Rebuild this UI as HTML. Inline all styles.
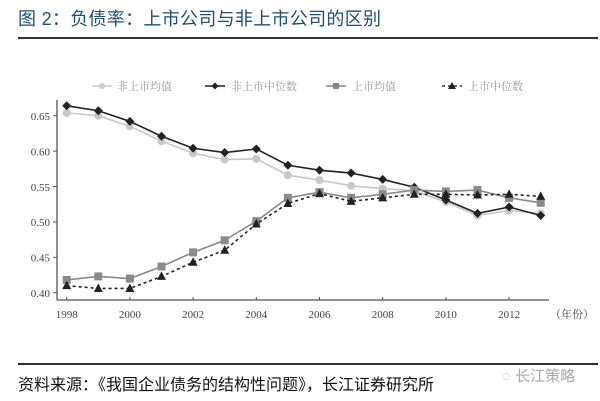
<!DOCTYPE html>
<html><head><meta charset="utf-8"><style>
body{margin:0;width:600px;height:401px;background:#fff;overflow:hidden;font-family:"Liberation Sans","Noto Sans CJK SC",sans-serif}
.t{position:absolute;left:18px;top:5px;font-size:18px;color:#1d4f73;letter-spacing:0.3px}
.r{position:absolute;left:18px;width:580px;height:2px;background:#333}
.s{position:absolute;left:18px;top:371px;font-size:16px;color:#111}
.w{position:absolute;left:502px;top:365px;font-size:15px;color:#aaa}
</style></head><body>
<div class="t">图 2：负债率：上市公司与非上市公司的区别</div>
<div class="r" style="top:37px"></div>
<div class="r" style="top:363px;height:1.5px"></div>
<div class="s">资料来源：《我国企业债务的结构性问题》，长江证券研究所</div>
<div class="w">◌ 长江策略</div>
<svg width="600" height="401" style="position:absolute;left:0;top:0" font-family="Liberation Serif,Noto Serif CJK SC,serif">
<g font-size="11" fill="#999" font-family="Liberation Serif,Noto Serif CJK SC,serif">
<line x1="92" y1="86" x2="112" y2="86" stroke="#ccc" stroke-width="1.5"/><circle cx="102" cy="86" r="3" fill="#ccc"/><text x="117" y="90">非上市均值</text>
<line x1="205" y1="86" x2="225" y2="86" stroke="#222" stroke-width="1.5"/><path d="M215 82.5L218.5 86 215 89.5 211.5 86Z" fill="#222"/><text x="231" y="90">非上市中位数</text>
<line x1="326" y1="86" x2="346" y2="86" stroke="#888" stroke-width="1.5"/><rect x="333" y="83" width="6" height="6" fill="#888"/><text x="352" y="90">上市均值</text>
<line x1="442" y1="86" x2="462" y2="86" stroke="#333" stroke-width="1.5" stroke-dasharray="3,3"/><path d="M452 82L456 89 448 89Z" fill="#222"/><text x="468" y="90">上市中位数</text>
</g>
<g stroke="#555" stroke-width="1.3" fill="none">
<line x1="57" y1="100" x2="57" y2="300"/><line x1="57" y1="300" x2="549" y2="300"/>
</g>
<g id="ticks" stroke="#555" stroke-width="1"></g>
<g font-size="11" fill="#444" text-anchor="end">
<text x="50" y="120">0.65</text><text x="50" y="155.5">0.60</text><text x="50" y="191">0.55</text><text x="50" y="226">0.50</text><text x="50" y="261.5">0.45</text><text x="50" y="297">0.40</text>
</g>
<g font-size="11" fill="#444" text-anchor="middle">
<text x="66.7" y="318">1998</text><text x="129.9" y="318">2000</text><text x="193.1" y="318">2002</text><text x="256.3" y="318">2004</text><text x="319.5" y="318">2006</text><text x="382.7" y="318">2008</text><text x="445.9" y="318">2010</text><text x="509.1" y="318">2012</text><text x="572" y="318">（年份）</text>
</g>
<g id="series"></g>
</svg>
<script>
var X=function(i){return 66.7+i*31.6},Y=function(v){return 292.7-(v-0.4)*708};
var ns="http://www.w3.org/2000/svg",tk=document.getElementById('ticks'),sg=document.getElementById('series');
function el(n,a,p){var e=document.createElementNS(ns,n);for(var k in a)e.setAttribute(k,a[k]);(p||sg).appendChild(e);return e}
[0.4,0.45,0.5,0.55,0.6,0.65].forEach(function(v){el('line',{x1:53,x2:57,y1:Y(v),y2:Y(v)},tk)});
for(var i=0;i<16;i+=2)el('line',{x1:X(i),x2:X(i),y1:297,y2:300},tk);
var S=[
{d:[.654,.650,.635,.614,.597,.588,.589,.566,.559,.551,.547,.544,.528,.509,.516,.512],c:'#c8c8c8',m:'c'},
{d:[.664,.657,.642,.621,.604,.598,.603,.580,.573,.569,.560,.549,.531,.512,.521,.509],c:'#222',m:'d'},
{d:[.418,.423,.420,.437,.457,.474,.501,.534,.542,.534,.539,.545,.543,.545,.534,.527],c:'#8a8a8a',m:'s'},
{d:[.410,.406,.406,.423,.443,.460,.497,.526,.540,.529,.534,.539,.539,.538,.539,.536],c:'#222',m:'t',da:'3,3'}];
S.forEach(function(s){var p=s.d.map(function(v,i){return X(i)+','+Y(v)}).join(' ');
var a={points:p,fill:'none',stroke:s.c,'stroke-width':1.6};if(s.da)a['stroke-dasharray']=s.da;el('polyline',a);
s.d.forEach(function(v,i){var x=X(i),y=Y(v);
if(s.m=='c')el('circle',{cx:x,cy:y,r:4,fill:s.c});
if(s.m=='d')el('path',{d:'M'+x+' '+(y-4.5)+'L'+(x+4.5)+' '+y+' '+x+' '+(y+4.5)+' '+(x-4.5)+' '+y+'Z',fill:s.c});
if(s.m=='s')el('rect',{x:x-4,y:y-4,width:8,height:8,fill:s.c});
if(s.m=='t')el('path',{d:'M'+x+' '+(y-5)+'L'+(x+4.5)+' '+(y+3.5)+' '+(x-4.5)+' '+(y+3.5)+'Z',fill:s.c});});});
</script>
</body></html>
